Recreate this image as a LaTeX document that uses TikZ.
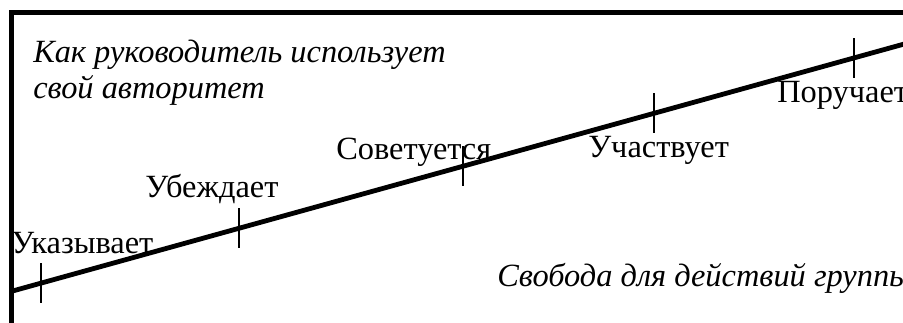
\documentclass[tikz,border=0pt]{standalone}
\usepackage{fontspec}
\setmainfont{Liberation Serif}
\usetikzlibrary{positioning}
\tikzset{
  lbl/.style={anchor=base west, inner sep=0pt, font=\fontsize{24.3}{27}\selectfont},
  note/.style={lbl, align=left, font=\fontsize{24.3}{27}\selectfont\itshape},
  frm/.style={line width=3.75pt},
  axisln/.style={line width=3.6pt},
  tck/.style={line width=1.5pt},
}

\begin{document}
\begin{tikzpicture}[x=0.75pt,y=-0.75pt]
        \useasboundingbox (0,0) rectangle (903,322);
        \clip (0,0) rectangle (903,322);
        % frame, open at right and bottom
        \draw[frm] (11.5,330) -- (11.5,12.5) -- (910,12.5);
        % authority line with its marks
        \coordinate (lo) at (11.5,291.3);
        \coordinate (hi) at (910,42.4);
        \draw[axisln] (lo) -- coordinate[pos=0.0332](t1) coordinate[pos=0.2535](t2)
            coordinate[pos=0.5028](t3) coordinate[pos=0.7154](t4) coordinate[pos=0.9373](t5) (hi);
        \foreach \t in {t1,t2,t3,t4,t5}
            \draw[tck] (\t) ++(0,-20) -- ++(0,40);
        % styles along the line
        \node[lbl](ukaz) at (11,253){Указывает};
        \node[lbl](ubezh) at (145,197){Убеждает};
        \node[lbl](sovet) at (336,159){Советуется};
        \node[lbl](uchast) at (588,157){Участвует};
        \node[lbl](poruch) at (777,102){Поручает};
        % axis captions (base of a two-line node is its last line)
        \node[note](kak) at (33,98){Как руководитель использует\\свой авторитет};
        \node[note](svob) at (497,286){Свобода для действий группы};
    \end{tikzpicture}
\end{document}
